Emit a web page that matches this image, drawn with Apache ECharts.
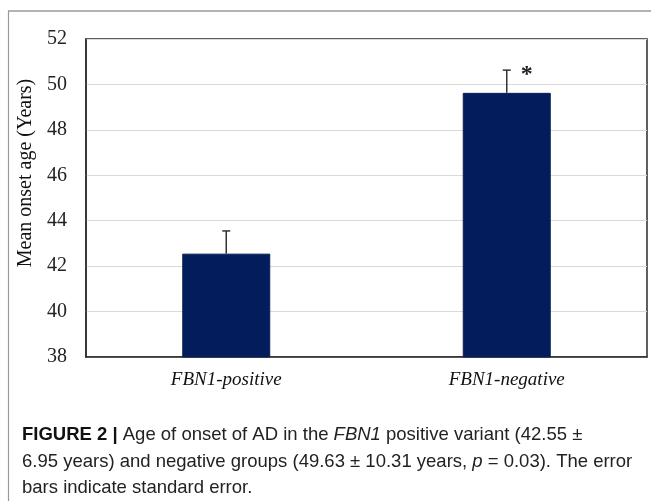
<!DOCTYPE html>
<html><head><meta charset="utf-8">
<script src="https://cdn.jsdelivr.net/npm/echarts@6/dist/echarts.min.js"></script>
<style>html,body{margin:0;padding:0;background:#fff}#c{width:651px;height:501px}</style>
</head><body><div id="c"></div>
<script>
const categories = ['FBN1-positive', 'FBN1-negative'];
const meanOnset = [42.55, 49.63];
const stdError = [1.0, 1.0];
const significance = ['', '*'];
const yTicks = {min: 38, max: 52, interval: 2};

const chart = echarts.init(document.getElementById('c'));
const serif = '"Liberation Serif", "DejaVu Serif", serif';
const sans = '"Liberation Sans", Arial, sans-serif';

chart.setOption({
  animation: false,
  grid: {left: 86, right: 4, top: 39, bottom: 144, show: true, borderColor: '#2b2b2b', borderWidth: 1.5, backgroundColor: 'transparent'},
  xAxis: {
    type: 'category', data: categories,
    axisLine: {show: true, lineStyle: {color: '#2b2b2b', width: 1.5}},
    axisTick: {show: false},
    axisLabel: {fontFamily: serif, fontStyle: 'italic', fontSize: 19, color: '#111', margin: 13}
  },
  yAxis: {
    type: 'value', min: yTicks.min, max: yTicks.max, interval: yTicks.interval,
    name: 'Mean onset age (Years)', nameLocation: 'middle', nameGap: 49,
    nameTextStyle: {fontFamily: serif, fontSize: 20, color: '#111', padding: [0, 0, 0, 50]},
    axisLine: {show: true, lineStyle: {color: '#2b2b2b', width: 1.5}},
    axisTick: {show: false},
    axisLabel: {fontFamily: serif, fontSize: 20, color: '#222', margin: 19},
    splitLine: {lineStyle: {color: '#d9d9d9', width: 1.2}}
  },
  series: [
    {type: 'bar', data: meanOnset, barWidth: 88, itemStyle: {color: '#031d5c', borderColor: '#0a1f55', borderWidth: 1}},
    {
      type: 'custom', z: 5,
      data: categories.map((c, i) => [i, meanOnset[i], stdError[i]]),
      renderItem: function (params, api) {
        const x = api.value(0);
        const m = api.value(1), se = api.value(2);
        const p0 = api.coord([x, m]);
        const p1 = api.coord([x, m + se]);
        const cap = 4;
        const children = [
          {type: 'line', shape: {x1: p0[0], y1: p0[1], x2: p1[0], y2: p1[1]}, style: {stroke: '#333', lineWidth: 1.5}},
          {type: 'line', shape: {x1: p1[0] - cap, y1: p1[1], x2: p1[0] + cap, y2: p1[1]}, style: {stroke: '#333', lineWidth: 1.5}}
        ];
        const s = significance[params.dataIndex];
        if (s) {
          children.push({type: 'text', style: {text: s, x: p1[0] + 20, y: p1[1] + 5, fontFamily: serif, fontSize: 24, fontWeight: 'bold', fill: '#222', align: 'center', verticalAlign: 'middle'}});
        }
        return {type: 'group', children: children};
      }
    }
  ],
  graphic: [
    {type: 'line', shape: {x1: 8, y1: 11, x2: 651, y2: 11}, style: {stroke: '#9a9a9a', lineWidth: 1.5}},
    {type: 'line', shape: {x1: 8.5, y1: 11, x2: 8.5, y2: 501}, style: {stroke: '#9a9a9a', lineWidth: 1.2}},
    {
      type: 'text', left: 22, top: 422,
      style: {
        text: '{b|FIGURE 2 |} Age of onset of AD in the {i|FBN1} positive variant (42.55 ±\n6.95 years) and negative groups (49.63 ± 10.31 years, {i|p} = 0.03). The error\nbars indicate standard error.',
        fontFamily: sans, fontSize: 18.5, fill: '#222', lineHeight: 26.5,
        rich: {
          b: {fontFamily: sans, fontSize: 18.5, fontWeight: 'bold', fill: '#111', lineHeight: 26.5},
          i: {fontFamily: sans, fontSize: 18.5, fontStyle: 'italic', fill: '#222', lineHeight: 26.5}
        }
      }
    }
  ]
});
</script></body></html>
